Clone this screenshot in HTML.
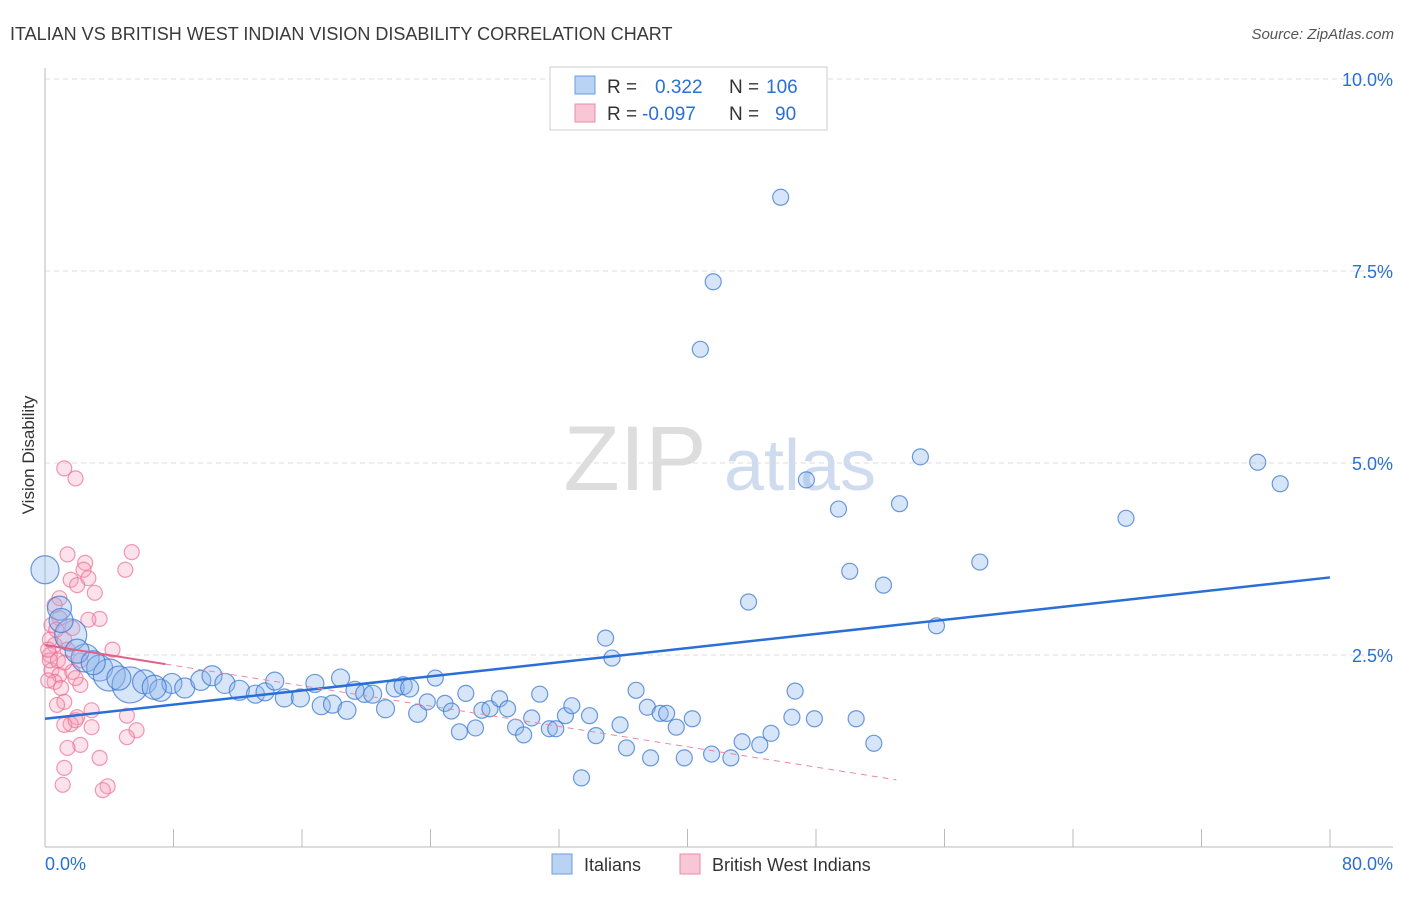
<!DOCTYPE html>
<html><head><meta charset="utf-8"><style>
body{margin:0;background:#fff;font-family:"Liberation Sans",sans-serif;}
svg text{font-family:"Liberation Sans",sans-serif;}
</style></head><body>
<svg id="chart" width="1406" height="892" xmlns="http://www.w3.org/2000/svg">
<text x="10" y="40" font-size="18" fill="#3a3a3a">ITALIAN VS BRITISH WEST INDIAN VISION DISABILITY CORRELATION CHART</text>
<text x="1394" y="39" font-size="15" fill="#555" font-style="italic" text-anchor="end">Source: ZipAtlas.com</text>
<text x="34" y="455" font-size="17" fill="#333" text-anchor="middle" transform="rotate(-90 34 455)">Vision Disability</text>
<g>
<text x="635" y="490" font-size="92" fill="#ddd" font-family="Liberation Serif" text-anchor="middle">ZIP</text>
<text x="800" y="490" font-size="72" fill="#cfdcf0" text-anchor="middle">atlas</text>
</g>
<g id="grid"></g><g id="axes"></g><g id="marks"></g>
<g>
<rect x="550" y="67" width="277" height="63" fill="#fff" stroke="#ccc"/>
<rect x="575" y="76" width="20" height="18" fill="#b9d3f5" stroke="#6a9de0"/>
<rect x="575" y="104" width="20" height="18" fill="#f9c6d5" stroke="#ec8aa8"/>
<text x="607" y="93" font-size="19" fill="#333">R =</text><text x="655" y="93" font-size="19" fill="#2a6fd6">0.322</text>
<text x="729" y="93" font-size="19" fill="#333">N =</text><text x="766" y="93" font-size="19" fill="#2a6fd6">106</text>
<text x="607" y="120" font-size="19" fill="#333">R =</text><text x="642" y="120" font-size="19" fill="#2a6fd6">-0.097</text>
<text x="729" y="120" font-size="19" fill="#333">N =</text><text x="775" y="120" font-size="19" fill="#2a6fd6">90</text>
</g>
<g>
<rect x="552" y="854" width="20" height="20" fill="#b9d3f5" stroke="#6a9de0"/>
<text x="584" y="871" font-size="18" fill="#333">Italians</text>
<rect x="680" y="854" width="20" height="20" fill="#f9c6d5" stroke="#ec8aa8"/>
<text x="712" y="871" font-size="18" fill="#333">British West Indians</text>
</g>
</svg>
<script>
const yTicks=[2.5,5.0,7.5,10.0];
const yTickLabels=["2.5%","5.0%","7.5%","10.0%"];
const xLabels=["0.0%","80.0%"];
const blueX=[45.8,41.6,40.8,54.5,75.5,76.9,47.4,49.4,53.2,67.3,58.2,50.1,52.2,43.8,55.5,34.9,35.3,0,0.9,1.6,2.5,3.4,4.0,5.3,6.2,7.2,7.9,8.7,9.7,10.4,11.2,12.1,13.1,13.7,14.3,14.9,15.9,16.8,17.2,17.9,18.4,18.8,19.3,19.9,20.4,21.2,21.8,22.3,22.7,23.2,23.8,24.3,24.9,25.3,25.8,26.2,26.8,27.2,27.7,28.3,28.8,29.3,29.8,30.3,30.8,31.4,31.8,32.4,32.8,33.4,33.9,34.3,35.8,36.2,36.8,37.5,37.7,38.3,38.7,39.3,39.8,40.3,41.5,42.7,43.4,44.5,45.2,46.5,46.7,47.9,50.5,51.6,1.0,2.0,3.0,4.6,6.8];
const blueY=[8.46,7.36,6.48,5.08,5.01,4.73,4.78,4.40,4.47,4.28,3.71,3.59,3.41,3.19,2.88,2.72,2.46,3.61,3.11,2.76,2.46,2.33,2.24,2.11,2.15,2.04,2.13,2.07,2.17,2.23,2.13,2.04,1.99,2.02,2.16,1.94,1.94,2.13,1.84,1.86,2.20,1.78,2.04,2.00,1.99,1.80,2.07,2.10,2.07,1.74,1.89,2.20,1.87,1.77,1.50,2.00,1.55,1.78,1.80,1.93,1.80,1.56,1.46,1.68,1.99,1.54,1.54,1.71,1.84,0.90,1.71,1.45,1.59,1.29,2.04,1.82,1.16,1.74,1.74,1.56,1.16,1.67,1.21,1.16,1.37,1.33,1.48,1.69,2.03,1.67,1.67,1.35,2.95,2.55,2.40,2.20,2.08];
const blueSize=[8,8,8,8,8,8,8,8,8,8,8,8,8,8,8,8,8,14,12,16,14,13,16,18,12,11,10,10,10,10,10,10,9,9,9,9,9,9,9,9,9,9,9,9,9,9,9,9,9,9,8,8,8,8,8,8,8,8,8,8,8,8,8,8,8,8,8,8,8,8,8,8,8,8,8,8,8,8,8,8,8,8,8,8,8,8,8,8,8,8,8,8,12,12,12,12,12];
const pinkX=[1.2,1.9,1.4,5.4,5.0,2.5,2.4,1.6,2.7,2.0,3.1,0.9,0.6,3.4,2.7,0.9,0.4,1.7,1.2,0.6,4.2,0.3,1.4,2.2,0.4,0.9,1.7,0.6,1.0,2.2,1.9,1.2,0.75,2.9,5.1,2.0,1.6,2.9,1.2,1.9,5.7,5.1,2.2,1.4,3.4,1.2,1.1,3.9,3.6,0.3,0.3,0.2,0.8,1.2,0.7,0.2];
const pinkY=[4.93,4.80,3.81,3.84,3.61,3.70,3.61,3.48,3.50,3.41,3.31,3.24,3.15,2.97,2.96,2.98,2.89,2.85,2.70,2.63,2.57,2.50,2.57,2.43,2.30,2.24,2.28,2.15,2.07,2.11,2.20,1.89,1.85,1.78,1.71,1.69,1.60,1.56,1.59,1.65,1.52,1.43,1.33,1.29,1.16,1.03,0.81,0.79,0.74,2.70,2.43,2.57,2.43,2.40,2.83,2.17];
const blueTrend=[1.67,3.51];
const pinkTrend=[2.63,-0.02];
const X0=45,X1=1330,Y0=847,PY=192/2.5;
const xs=v=>X0+v/80*(X1-X0), ys=v=>Y0-v*PY;
const NS="http://www.w3.org/2000/svg";
function mk(t,a,p){const e=document.createElementNS(NS,t);for(const k in a)e.setAttribute(k,a[k]);p.appendChild(e);return e;}
const grid=document.getElementById('grid'),axes=document.getElementById('axes'),marks=document.getElementById('marks');
yTicks.forEach((t,i)=>{
 const l=mk('line',{x1:45,x2:1393,y1:ys(t),y2:ys(t),stroke:'#ddd','stroke-dasharray':'5,4'},grid);
 
 
 const tx=mk('text',{x:1393,y:ys(t)+7,'font-size':18,fill:'#2a6fd6','text-anchor':'end'},axes);
 tx.textContent=yTickLabels[i];
 
 
});
const ya=mk('line',{x1:45,x2:45,y1:68,y2:847,stroke:'#bbb'},axes);


const xa=mk('line',{x1:45,x2:1393,y1:847,y2:847,stroke:'#bbb'},axes);


for(let i=0;i<=10;i++){const t=mk('line',{x1:xs(i*8),x2:xs(i*8),y1:829,y2:847,stroke:'#bbb'},axes);
 
 }
[[0,45,'start'],[80,1393,'end']].forEach((d,i)=>{const t=mk('text',{x:d[1],y:870,'font-size':18,fill:'#2a6fd6','text-anchor':d[2]},axes);t.textContent=xLabels[i];
 
 });
pinkX.forEach((v,i)=>{const c=mk('circle',{cx:xs(v),cy:ys(pinkY[i]),r:7.5,fill:'rgba(246,160,185,0.3)',stroke:'rgba(236,110,150,0.7)','stroke-width':1.2},marks);
 
 });
blueX.forEach((v,i)=>{const c=mk('circle',{cx:xs(v),cy:ys(blueY[i]),r:blueSize[i],fill:'rgba(140,180,235,0.35)',stroke:'rgba(60,120,210,0.75)','stroke-width':1.2},marks);
 
 });
const bt=mk('line',{x1:xs(0),y1:ys(blueTrend[0]),x2:xs(80),y2:ys(blueTrend[1]),stroke:'#2a6fd6','stroke-width':2.5},marks);


const pAt=x=>pinkTrend[0]+(pinkTrend[1]-pinkTrend[0])*x/80;
const ps=mk('line',{x1:xs(0),y1:ys(pAt(0)),x2:xs(7.5),y2:ys(pAt(7.5)),stroke:'#e0608a','stroke-width':2},marks);


const pd=mk('line',{x1:xs(7.5),y1:ys(pAt(7.5)),x2:xs(53),y2:ys(pAt(53)),stroke:'#e888a8','stroke-width':1,'stroke-dasharray':'6,5'},marks);


</script>
</body></html>
